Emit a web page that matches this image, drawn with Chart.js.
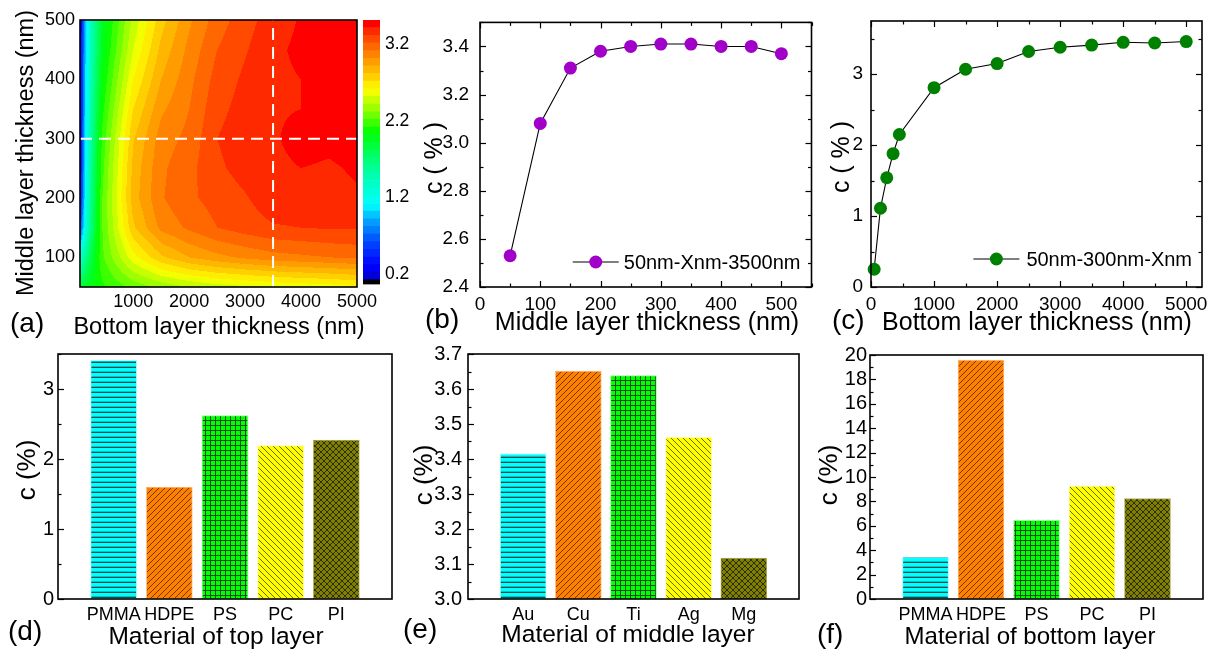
<!DOCTYPE html>
<html>
<head>
<meta charset="utf-8">
<script src="https://cdn.jsdelivr.net/npm/chart.js@4.4.1/dist/chart.umd.min.js"></script>
<style>
  body { margin: 0; background: #fff; width: 1218px; height: 653px; position: relative; overflow: hidden;
         font-family: Arial, "Liberation Sans", sans-serif; }
  canvas { position: absolute; }
  .tag { position: absolute; font-size: 28px; line-height: 28px; color: #000; }
</style>
</head>
<body>
<canvas id="mapChart"></canvas>
<canvas id="barScale"></canvas>
<canvas id="middleChart"></canvas>
<canvas id="bottomChart"></canvas>
<canvas id="topMatChart"></canvas>
<canvas id="midMatChart"></canvas>
<canvas id="botMatChart"></canvas>
<div class="tag" style="left:10px;top:309px">(a)</div>
<div class="tag" style="left:425px;top:305px">(b)</div>
<div class="tag" style="left:832px;top:306px">(c)</div>
<div class="tag" style="left:8px;top:617px">(d)</div>
<div class="tag" style="left:403px;top:615px">(e)</div>
<div class="tag" style="left:817px;top:620px">(f)</div>
<script>
// ---- data ----
const bottomNm = [50, 150, 250, 350, 450, 1000, 1500, 2000, 2500, 3000, 3500, 4000, 4500, 5000];
const middleNm = [50, 100, 150, 200, 250, 300, 350, 400, 450, 500];

// (a) c (%) on the grid, one row per middle thickness (50 .. 500 nm)
const cMap = [
  [1.90, 1.95, 2.00, 2.05, 2.10, 2.25, 2.35, 2.42, 2.47, 2.50, 2.53, 2.55, 2.57, 2.60],
  [1.30, 1.60, 1.85, 2.05, 2.20, 2.58, 2.80, 2.92, 2.99, 3.04, 3.08, 3.10, 3.12, 3.14],
  [0.60, 1.25, 1.67, 1.98, 2.22, 2.80, 3.05, 3.14, 3.22, 3.27, 3.31, 3.32, 3.33, 3.33],
  [0.35, 1.18, 1.62, 1.95, 2.22, 2.87, 3.11, 3.20, 3.26, 3.31, 3.38, 3.39, 3.40, 3.41],
  [0.28, 1.14, 1.58, 1.92, 2.19, 2.85, 3.10, 3.19, 3.30, 3.36, 3.40, 3.42, 3.41, 3.43],
  [0.25, 1.11, 1.54, 1.88, 2.15, 2.81, 3.07, 3.15, 3.32, 3.38, 3.41, 3.45, 3.44, 3.46],
  [0.23, 1.08, 1.51, 1.83, 2.09, 2.72, 3.00, 3.12, 3.29, 3.36, 3.41, 3.42, 3.45, 3.46],
  [0.22, 1.05, 1.47, 1.78, 2.03, 2.62, 2.92, 3.09, 3.26, 3.34, 3.40, 3.42, 3.44, 3.47],
  [0.21, 1.02, 1.43, 1.73, 1.98, 2.52, 2.85, 3.05, 3.22, 3.31, 3.40, 3.44, 3.46, 3.47],
  [0.20, 1.00, 1.40, 1.70, 1.95, 2.45, 2.78, 3.00, 3.17, 3.28, 3.37, 3.43, 3.45, 3.46]
];
const cutBottom = 3500;
const cutMiddle = 300;

// (b) and (c) line series
const cVsMiddle = [2.53, 3.08, 3.31, 3.38, 3.40, 3.41, 3.41, 3.40, 3.40, 3.37];
const cVsBottom = [0.25, 1.11, 1.54, 1.88, 2.15, 2.81, 3.07, 3.15, 3.32, 3.38, 3.41, 3.45, 3.44, 3.46];

// (d)-(f) bars
const topMaterials = ['PMMA', 'HDPE', 'PS', 'PC', 'PI'];
const cTopMaterial = [3.41, 1.60, 2.62, 2.19, 2.27];
const middleMaterials = ['Au', 'Cu', 'Ti', 'Ag', 'Mg'];
const cMiddleMaterial = [3.415, 3.651, 3.638, 3.462, 3.117];
const bottomMaterials = ['PMMA', 'HDPE', 'PS', 'PC', 'PI'];
const cBottomMaterial = [3.44, 19.59, 6.44, 9.25, 8.24];

// tick labels
const mapXTicks = [1000, 2000, 3000, 4000, 5000];
const mapYTicks = [100, 200, 300, 400, 500];
const scaleTicks = [0.2, 1.2, 2.2, 3.2];
const bXTicks = [0, 100, 200, 300, 400, 500];
const bYTicks = [2.4, 2.6, 2.8, 3.0, 3.2, 3.4];
const cXTicks = [0, 1000, 2000, 3000, 4000, 5000];
const cYTicks = [0, 1, 2, 3];
const dYTicks = [0, 1, 2, 3];
const eYTicks = [3.0, 3.1, 3.2, 3.3, 3.4, 3.5, 3.6, 3.7];
const fYTicks = [0, 2, 4, 6, 8, 10, 12, 14, 16, 18, 20];

// ---- styles ----
const FONT = 'Arial, "Liberation Sans", sans-serif';
const barBase = ['#00ffff', '#ff8000', '#00ff00', '#ffff00', '#808000'];
const barInk = ['#0b4f4f', '#6e3a00', '#0a4a0a', '#6a6a00', '#2e2e00'];
const barEdge = ['#9ffcfc', '#ffc080', '#90ff90', '#ffff99', '#b0b060'];
const barHatch = ['h', 'fd', 'grid', 'bd', 'cross'];

// contour palette (value -> rgb), banded every 0.1
const palette = [
  [0.12, [0, 0, 200]], [0.3, [0, 0, 255]], [0.6, [0, 70, 255]], [0.9, [0, 165, 255]],
  [1.1, [0, 255, 255]], [1.5, [0, 255, 170]], [1.75, [0, 255, 100]], [2.05, [0, 255, 0]],
  [2.35, [150, 255, 0]], [2.6, [255, 255, 0]], [2.8, [255, 200, 0]], [3.0, [255, 150, 0]],
  [3.2, [255, 95, 0]], [3.35, [255, 50, 0]], [3.42, [255, 20, 0]], [3.47, [255, 0, 0]]
];
const LEVEL0 = 0.12, LEVEL_STEP = 0.1, LEVEL_TOP = 3.52, SCALE_MIN = 0.06;

Chart.defaults.font.family = FONT;
Chart.defaults.color = '#000';
Chart.defaults.animation = false;
Chart.defaults.responsive = false;
Chart.defaults.plugins.legend.display = false;
Chart.defaults.plugins.tooltip.enabled = false;

function paletteAt(v) {
  if (v <= palette[0][0]) return palette[0][1];
  for (let i = 0; i < palette.length - 1; i++) {
    const [v0, c0] = palette[i], [v1, c1] = palette[i + 1];
    if (v <= v1) {
      const t = (v - v0) / (v1 - v0);
      return c0.map((c, k) => Math.round(c + (c1[k] - c) * t));
    }
  }
  return palette[palette.length - 1][1];
}
const bandCount = Math.round((LEVEL_TOP - LEVEL0) / LEVEL_STEP);
function bandColor(v) {
  if (v < LEVEL0) return [0, 0, 0];
  const k = Math.min(Math.floor((v - LEVEL0) / LEVEL_STEP + 1e-9), bandCount - 1);
  return paletteAt(LEVEL0 + (k + 0.5) * LEVEL_STEP);
}

function locate(arr, v) {
  let i = 0;
  while (i < arr.length - 2 && v > arr[i + 1]) i++;
  const t = Math.min(1, Math.max(0, (v - arr[i]) / (arr[i + 1] - arr[i])));
  return [i, t];
}
function sampleMap(x, y) {
  const [i, tx] = locate(bottomNm, x);
  const [j, ty] = locate(middleNm, y);
  const lo = cMap[j][i] * (1 - tx) + cMap[j][i + 1] * tx;
  const hi = cMap[j + 1][i] * (1 - tx) + cMap[j + 1][i + 1] * tx;
  return lo * (1 - ty) + hi * ty;
}

// filled contour, drawn pixel by pixel through the chart's scales
const contourFill = {
  id: 'contourFill',
  beforeDatasetsDraw(chart) {
    const { ctx, chartArea: a, scales: { x, y } } = chart;
    const w = Math.round(a.right - a.left), h = Math.round(a.bottom - a.top);
    const off = document.createElement('canvas');
    off.width = w; off.height = h;
    const octx = off.getContext('2d');
    const img = octx.createImageData(w, h);
    for (let py = 0; py < h; py++) {
      const yv = y.getValueForPixel(a.top + py + 0.5);
      for (let px = 0; px < w; px++) {
        const c = bandColor(sampleMap(x.getValueForPixel(a.left + px + 0.5), yv));
        const o = (py * w + px) * 4;
        img.data[o] = c[0]; img.data[o + 1] = c[1]; img.data[o + 2] = c[2]; img.data[o + 3] = 255;
      }
    }
    octx.putImageData(img, 0, 0);
    ctx.drawImage(off, a.left, a.top);
  }
};

// Origin-like frame with inward ticks
const frameTicks = {
  id: 'frameTicks',
  afterDraw(chart, args, opts) {
    const { ctx, chartArea: a, scales } = chart;
    ctx.save();
    ctx.strokeStyle = '#000';
    ctx.lineWidth = 1.2;
    const draw = (axis, conf) => {
      if (!conf) return;
      const s = scales[axis];
      const mark = (v, len) => {
        const p = Math.round(s.getPixelForValue(v)) + 0.5;
        conf.sides.forEach(side => {
          ctx.beginPath();
          if (side === 'bottom') { ctx.moveTo(p, a.bottom); ctx.lineTo(p, a.bottom - len); }
          if (side === 'top') { ctx.moveTo(p, a.top); ctx.lineTo(p, a.top + len); }
          if (side === 'left') { ctx.moveTo(a.left, p); ctx.lineTo(a.left + len, p); }
          if (side === 'right') { ctx.moveTo(a.right, p); ctx.lineTo(a.right - len, p); }
          ctx.stroke();
        });
      };
      conf.major.forEach(v => mark(v, 6));
      (conf.minor || []).forEach(v => mark(v, 3.5));
    };
    draw('x', opts.x);
    draw('y', opts.y);
    ctx.lineWidth = 1.6;
    ctx.strokeRect(a.left, a.top, a.right - a.left, a.bottom - a.top);
    ctx.restore();
  }
};

// axis titles placed where the figure has them
const captions = {
  id: 'captions',
  afterDraw(chart, args, opts) {
    const { ctx } = chart;
    (opts.items || []).forEach(it => {
      ctx.save();
      ctx.font = it.size + 'px ' + FONT;
      ctx.fillStyle = '#000';
      ctx.textAlign = 'center';
      ctx.textBaseline = 'middle';
      ctx.translate(it.x, it.y);
      if (it.rotate) ctx.rotate(-Math.PI / 2);
      ctx.fillText(it.text, 0, 0);
      ctx.restore();
    });
  }
};

// legend drawn inside the plot, bottom right
const lineLegend = {
  id: 'lineLegend',
  afterDraw(chart, args, opts) {
    if (!opts.show) return;
    const { ctx, chartArea: a } = chart;
    const ds = chart.data.datasets[0];
    ctx.save();
    ctx.font = '20px ' + FONT;
    const tw = ctx.measureText(ds.label).width;
    const tx = a.right - opts.right - tw;
    const y = a.bottom - opts.bottom;
    const x1 = tx - opts.gap, x0 = x1 - 46;
    ctx.strokeStyle = '#000'; ctx.lineWidth = 1.2;
    ctx.beginPath(); ctx.moveTo(x0, y); ctx.lineTo(x1, y); ctx.stroke();
    ctx.fillStyle = ds.pointBackgroundColor;
    ctx.beginPath(); ctx.arc((x0 + x1) / 2, y, ds.pointRadius, 0, Math.PI * 2); ctx.fill();
    ctx.fillStyle = '#000'; ctx.textBaseline = 'middle'; ctx.textAlign = 'left';
    ctx.fillText(ds.label, tx, y + 1);
    ctx.restore();
  }
};

function mount(id, box) {
  const c = document.getElementById(id);
  c.width = box.w; c.height = box.h;
  c.style.left = box.x + 'px'; c.style.top = box.y + 'px';
  return c;
}
function fixedTicks(list) { return s => { s.ticks = list.map(v => ({ value: v })); }; }
function minorBetween(major, min, max) {
  const step = major[1] - major[0], out = [];
  for (let v = major[0] - step / 2; v <= max + 1e-9; v += step) {
    if (v >= min - 1e-9) out.push(+v.toFixed(4));
  }
  return out;
}
// titles given in page coordinates -> canvas coordinates
function titlesFor(box, list) {
  return { items: list.map(t => Object.assign({}, t, { x: t.x - box.x, y: t.y - box.y })) };
}

function hatch(base, ink, kind) {
  const n = kind === 'h' || kind === 'grid' ? 5 : 6;
  const t = document.createElement('canvas');
  t.width = n; t.height = n;
  const g = t.getContext('2d');
  g.fillStyle = base; g.fillRect(0, 0, n, n);
  g.fillStyle = ink; g.strokeStyle = ink; g.lineWidth = 1;
  if (kind === 'h') {
    g.fillRect(0, 2, n, 1);
    g.globalAlpha = 0.35; g.fillRect(0, 1, n, 1);
  } else if (kind === 'grid') {
    g.fillRect(0, 0, n, 1); g.fillRect(0, 0, 1, n);
  } else {
    const fwd = () => { g.beginPath(); g.moveTo(-1, n + 1); g.lineTo(n + 1, -1); g.moveTo(-1, 1); g.lineTo(1, -1); g.moveTo(n - 1, n + 1); g.lineTo(n + 1, n - 1); g.stroke(); };
    const back = () => { g.beginPath(); g.moveTo(-1, -1); g.lineTo(n + 1, n + 1); g.moveTo(n - 1, -1); g.lineTo(n + 1, 1); g.moveTo(-1, n - 1); g.lineTo(1, n + 1); g.stroke(); };
    if (kind === 'fd' || kind === 'cross') fwd();
    if (kind === 'bd' || kind === 'cross') back();
  }
  return g.createPattern(t, 'repeat');
}

function plainAxis() {
  return { grid: { display: false, drawTicks: false }, border: { display: false } };
}

// ---- (a) contour map ----
{
  const box = { x: 0, y: 0, w: 400, h: 345 }, area = { l: 80, t: 20, r: 357, b: 287 };
  new Chart(mount('mapChart', box), {
    type: 'scatter',
    data: {
      datasets: [
        { data: [{ x: cutBottom, y: middleNm[0] }, { x: cutBottom, y: middleNm[middleNm.length - 1] }] },
        { data: [{ x: bottomNm[0], y: cutMiddle }, { x: bottomNm[bottomNm.length - 1], y: cutMiddle }] }
      ].map(d => Object.assign(d, { showLine: true, borderColor: '#fff', borderWidth: 2, borderDash: [12, 7], pointRadius: 0 }))
    },
    options: {
      layout: { padding: { top: area.t - box.y, right: box.x + box.w - area.r, left: 0, bottom: 0 } },
      plugins: {
        frameTicks: {},
        captions: titlesFor(box, [
          { text: 'Bottom layer thickness (nm)', x: 219, y: 328, size: 23.5 },
          { text: 'Middle layer thickness (nm)', x: 27, y: 153, size: 23.5, rotate: true }
        ])
      },
      scales: {
        x: Object.assign(plainAxis(), {
          type: 'linear', min: bottomNm[0], max: bottomNm[bottomNm.length - 1],
          afterBuildTicks: fixedTicks(mapXTicks),
          afterFit: s => { s.height = box.y + box.h - area.b; },
          ticks: { font: { size: 18 }, padding: 4, autoSkip: false, maxRotation: 0, callback: v => String(v) }
        }),
        y: Object.assign(plainAxis(), {
          type: 'linear', min: middleNm[0], max: middleNm[middleNm.length - 1],
          afterBuildTicks: fixedTicks(mapYTicks),
          afterFit: s => { s.width = area.l - box.x; },
          ticks: { font: { size: 18 }, padding: 5, autoSkip: false, callback: v => String(v) }
        })
      }
    },
    plugins: [contourFill, frameTicks, captions]
  });
}

// ---- (a) colour scale ----
{
  const box = { x: 357, y: 0, w: 60, h: 300 }, area = { l: 363, t: 20, r: 380, b: 287 };
  const bands = [{ lo: SCALE_MIN, hi: LEVEL0, c: [0, 0, 0] }];
  for (let k = 0; k < bandCount; k++) {
    const lo = LEVEL0 + k * LEVEL_STEP;
    bands.push({ lo, hi: lo + LEVEL_STEP, c: paletteAt(lo + LEVEL_STEP / 2) });
  }
  new Chart(mount('barScale', box), {
    type: 'bar',
    data: {
      labels: [''],
      datasets: bands.map(b => ({
        data: [[b.lo, b.hi]], backgroundColor: 'rgb(' + b.c.join(',') + ')',
        borderWidth: 0, grouped: false, barPercentage: 1, categoryPercentage: 1
      }))
    },
    options: {
      layout: { padding: { left: area.l - box.x, top: area.t - box.y, bottom: box.y + box.h - area.b, right: 0 } },
      scales: {
        x: { display: false },
        y: Object.assign(plainAxis(), {
          position: 'right', min: SCALE_MIN, max: LEVEL_TOP,
          afterBuildTicks: fixedTicks(scaleTicks),
          afterFit: s => { s.width = box.x + box.w - area.r; },
          ticks: { font: { size: 17.5 }, padding: 5, callback: v => v.toFixed(1) }
        })
      }
    }
  });
}

// ---- (b), (c) line charts ----
function lineChart(id, box, area, opt) {
  new Chart(mount(id, box), {
    type: 'scatter',
    data: {
      datasets: [{
        label: opt.label,
        data: opt.xs.map((x, i) => ({ x, y: opt.ys[i] })),
        showLine: true, borderColor: '#000', borderWidth: 1.1,
        pointRadius: 6.5, pointBorderWidth: 0, pointBackgroundColor: opt.color, backgroundColor: opt.color,
        clip: 10
      }]
    },
    options: {
      layout: { padding: { top: area.t - box.y, right: box.x + box.w - area.r, left: 0, bottom: 0 } },
      plugins: {
        frameTicks: {
          x: { major: opt.xTicks, minor: minorBetween(opt.xTicks, opt.xMin, opt.xMax), sides: ['bottom', 'top'] },
          y: { major: opt.yTicks, minor: minorBetween(opt.yTicks, opt.yMin, opt.yMax), sides: ['left', 'right'] }
        },
        lineLegend: Object.assign({ show: true }, opt.legend),
        captions: titlesFor(box, opt.titles)
      },
      scales: {
        x: Object.assign(plainAxis(), {
          type: 'linear', min: opt.xMin, max: opt.xMax,
          afterBuildTicks: fixedTicks(opt.xTicks),
          afterFit: s => { s.height = box.y + box.h - area.b; },
          ticks: { font: { size: 19 }, padding: 6, autoSkip: false, maxRotation: 0, callback: v => String(v) }
        }),
        y: Object.assign(plainAxis(), {
          type: 'linear', min: opt.yMin, max: opt.yMax,
          afterBuildTicks: fixedTicks(opt.yTicks),
          afterFit: s => { s.width = area.l - box.x; },
          ticks: { font: { size: 19 }, padding: opt.yPad, autoSkip: false, callback: opt.yFmt }
        })
      }
    },
    plugins: [frameTicks, lineLegend, captions]
  });
}

lineChart('middleChart', { x: 400, y: 0, w: 418, h: 345 }, { l: 480, t: 20, r: 813, b: 287 }, {
  label: '50nm-Xnm-3500nm', xs: middleNm, ys: cVsMiddle, color: '#a000c8',
  xMin: 0, xMax: 550, xTicks: bXTicks, yMin: 2.4, yMax: 3.5, yTicks: bYTicks,
  yFmt: v => v.toFixed(1), yPad: 11,
  titles: [
    { text: 'Middle layer thickness (nm)', x: 647, y: 323, size: 25 },
    { text: 'c ( % )', x: 435, y: 158, size: 25, rotate: true }
  ],
  legend: { right: 11, bottom: 25, gap: 5 }
});

lineChart('bottomChart', { x: 818, y: 0, w: 400, h: 345 }, { l: 871, t: 21, r: 1202, b: 287 }, {
  label: '50nm-300nm-Xnm', xs: bottomNm, ys: cVsBottom, color: '#008000',
  xMin: 0, xMax: 5250, xTicks: cXTicks, yMin: 0, yMax: 3.75, yTicks: cYTicks,
  yFmt: v => String(v), yPad: 8,
  titles: [
    { text: 'Bottom layer thickness (nm)', x: 1037, y: 323, size: 25 },
    { text: 'c ( % )', x: 842, y: 157, size: 25, rotate: true }
  ],
  legend: { right: 10, bottom: 28, gap: 7 }
});

// ---- (d), (e), (f) bar charts ----
function barChart(id, box, area, opt) {
  new Chart(mount(id, box), {
    type: 'bar',
    data: {
      datasets: [{
        data: opt.values.map((v, i) => ({ x: i + 1, y: v })),
        backgroundColor: barBase.map((b, i) => hatch(b, barInk[i], barHatch[i])),
        borderColor: barEdge, borderWidth: 1, borderSkipped: false, barThickness: 46
      }]
    },
    options: {
      layout: { padding: { top: area.t - box.y, right: box.x + box.w - area.r, left: 0, bottom: 0 } },
      plugins: {
        frameTicks: { y: { major: opt.yTicks, minor: minorBetween(opt.yTicks, opt.yMin, opt.yMax), sides: ['left'] } },
        captions: titlesFor(box, opt.titles)
      },
      scales: {
        x: Object.assign(plainAxis(), {
          type: 'linear', min: 0, max: opt.names.length + 1, offset: false,
          afterBuildTicks: fixedTicks(opt.names.map((n, i) => i + 1)),
          afterFit: s => { s.height = box.y + box.h - area.b; },
          ticks: { font: { size: 18 }, padding: 5, autoSkip: false, maxRotation: 0, callback: (v, i) => opt.names[i] }
        }),
        y: Object.assign(plainAxis(), {
          type: 'linear', min: opt.yMin, max: opt.yMax, beginAtZero: false,
          afterBuildTicks: fixedTicks(opt.yTicks),
          afterFit: s => { s.width = area.l - box.x; },
          ticks: { font: { size: 20 }, padding: opt.yPad, autoSkip: false, callback: opt.yFmt }
        })
      }
    },
    plugins: [frameTicks, captions]
  });
}

barChart('topMatChart', { x: 0, y: 335, w: 400, h: 318 }, { l: 58, t: 354, r: 392, b: 599 }, {
  names: topMaterials, values: cTopMaterial, yMin: 0, yMax: 3.5, yTicks: dYTicks,
  yFmt: v => String(v), yPad: 4,
  titles: [
    { text: 'Material of top layer', x: 216, y: 637, size: 24.5 },
    { text: 'c (%)', x: 28, y: 470, size: 26, rotate: true }
  ]
});

barChart('midMatChart', { x: 400, y: 335, w: 410, h: 318 }, { l: 468, t: 354, r: 799, b: 599 }, {
  names: middleMaterials, values: cMiddleMaterial, yMin: 3.0, yMax: 3.7, yTicks: eYTicks,
  yFmt: v => v.toFixed(1), yPad: 6,
  titles: [
    { text: 'Material of middle layer', x: 628, y: 635, size: 24.5 },
    { text: 'c (%)', x: 425, y: 475, size: 26, rotate: true }
  ]
});

barChart('botMatChart', { x: 810, y: 335, w: 408, h: 318 }, { l: 870, t: 355, r: 1203, b: 599 }, {
  names: bottomMaterials, values: cBottomMaterial, yMin: 0, yMax: 20, yTicks: fYTicks,
  yFmt: v => String(v), yPad: 3,
  titles: [
    { text: 'Material of bottom layer', x: 1030, y: 637, size: 24 },
    { text: 'c (%)', x: 830, y: 475, size: 26, rotate: true }
  ]
});
</script>
</body>
</html>
